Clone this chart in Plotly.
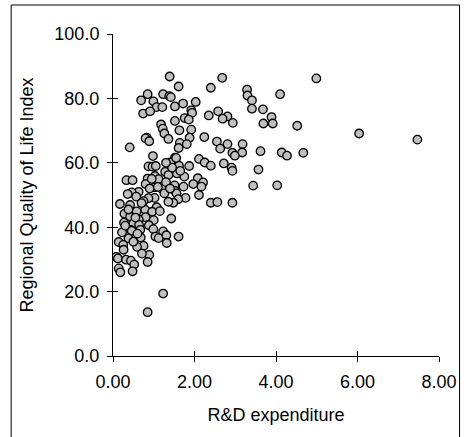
import plotly.graph_objects as go

# R&D expenditure (x) and Regional Quality of Life Index (y)
rd_expenditure = [
    1.39, 2.68, 4.99, 1.61, 2.40, 3.29, 1.23, 0.85, 4.10, 3.30, 1.38, 1.42, 0.69, 0.99, 3.41,
    2.03, 1.72, 1.07, 1.21, 1.52, 3.41, 3.68, 0.74, 0.91, 1.92, 1.94, 2.58, 2.35, 2.81, 2.69,
    3.89, 1.76, 1.86, 1.52, 2.94, 3.69, 3.92, 1.18, 4.52, 1.22, 1.63, 1.92, 1.26, 6.04, 0.83,
    0.80, 1.36, 1.88, 2.24, 7.47, 0.89, 2.55, 2.81, 1.64, 1.81, 3.18, 0.41, 1.61, 2.63, 3.62,
    4.14, 4.67, 3.17, 2.93, 4.27, 2.99, 0.98, 2.11, 1.52, 2.25, 1.41, 1.62, 1.87, 2.40, 2.72,
    0.87, 0.97, 2.91, 2.93, 3.57, 1.28, 1.57, 1.36, 1.03, 1.75, 1.12, 0.85, 2.08, 0.33, 0.48,
    2.21, 1.97, 3.44, 4.03, 0.80, 1.51, 1.02, 1.73, 2.17, 1.20, 1.52, 0.63, 0.46, 0.36, 1.26,
    1.56, 2.11, 0.57, 1.02, 0.87, 1.78, 1.60, 0.75, 2.40, 2.56, 2.93, 1.48, 1.36, 0.17, 0.42,
    1.07, 0.79, 0.58, 0.96, 0.28, 0.42, 0.80, 1.43, 0.63, 1.00, 0.27, 0.50, 0.64, 0.88, 0.44,
    0.99, 0.67, 0.22, 1.23, 0.46, 1.04, 1.12, 1.61, 0.68, 0.38, 0.14, 1.31, 1.32, 0.25, 0.75,
    0.59, 0.26, 0.89, 0.71, 0.08, 0.12, 0.32, 0.44, 0.85, 0.52, 0.14, 0.18, 0.48, 1.23, 0.85,
    0.38, 0.55, 0.70, 0.90, 1.10, 1.15, 0.95, 1.30, 1.40, 1.45, 1.55, 1.65, 1.30, 0.60, 0.50,
    0.30, 1.05,
]
quality_of_life = [
    86.8, 86.4, 86.2, 83.7, 83.3, 82.7, 81.3, 81.3, 81.3, 80.9, 80.7, 80.4, 79.4, 79.1, 79.4,
    78.9, 78.4, 77.3, 77.3, 77.5, 76.8, 76.6, 75.3, 76.0, 76.3, 75.5, 76.0, 74.7, 74.4, 73.7,
    74.2, 73.9, 73.4, 73.0, 72.4, 72.2, 72.2, 71.9, 71.5, 70.6, 70.1, 70.3, 69.1, 69.1, 67.8,
    67.6, 67.4, 67.8, 68.0, 67.2, 66.7, 66.6, 65.8, 66.2, 65.8, 65.8, 64.8, 64.6, 64.4, 63.6,
    63.2, 63.1, 63.2, 63.1, 62.2, 62.2, 62.1, 61.2, 61.6, 60.1, 60.1, 59.1, 59.0, 59.1, 59.8,
    58.9, 58.8, 58.5, 57.5, 57.9, 57.2, 56.7, 56.2, 55.9, 55.7, 54.9, 55.1, 55.2, 54.6, 54.6,
    53.9, 53.4, 52.9, 53.0, 53.4, 53.0, 52.4, 52.6, 52.6, 51.9, 51.3, 51.0, 50.8, 50.3, 50.5,
    50.5, 50.0, 49.5, 49.1, 49.0, 49.1, 48.7, 48.1, 47.6, 47.8, 47.6, 47.6, 47.9, 47.2, 46.9,
    46.2, 45.4, 44.9, 44.8, 44.2, 43.3, 43.1, 42.7, 42.4, 42.2, 41.4, 41.2, 40.7, 40.6, 39.2,
    39.4, 39.2, 38.4, 38.7, 38.9, 37.1, 36.6, 37.1, 36.8, 36.5, 35.4, 37.5, 35.1, 34.5, 34.2,
    33.9, 33.0, 31.4, 31.8, 30.8, 30.3, 29.9, 29.6, 29.2, 28.4, 27.2, 26.0, 26.3, 19.4, 13.6,
    45.5, 43.0, 47.5, 52.0, 52.5, 45.0, 55.0, 54.0, 52.0, 58.5, 61.5, 57.5, 60.0, 38.0, 35.5,
    40.5, 59.0,
]

x_ticks = [0, 2, 4, 6, 8]
y_ticks = [0, 20, 40, 60, 80, 100]

FONT = "Liberation Sans, Arial, sans-serif"

fig = go.Figure()
fig.add_trace(go.Scatter(
    x=rd_expenditure, y=quality_of_life, mode="markers",
    marker=dict(size=8.5, color="#c0c0c0", line=dict(color="black", width=1.3)),
    showlegend=False, hoverinfo="x+y",
))
# empty trace to activate overlay axes (inner half of the crossing ticks)
fig.add_trace(go.Scatter(x=[], y=[], xaxis="x2", yaxis="y2", showlegend=False, hoverinfo="skip"))

fig.update_layout(
    width=469, height=437,
    paper_bgcolor="white", plot_bgcolor="white",
    margin=dict(l=113, r=23, t=34, b=81),
    font=dict(family=FONT, size=18, color="black"),
    xaxis=dict(
        range=[0, 8], tickvals=x_ticks, tickformat=".2f",
        showgrid=False, zeroline=False, showline=True, linecolor="black", linewidth=1,
        ticks="outside", ticklen=5, tickcolor="black", tickwidth=1, ticklabelstandoff=4,
        title=dict(text="R&D expenditure", standoff=17, font=dict(size=18)),
        tickfont=dict(size=18),
    ),
    yaxis=dict(
        range=[0, 100], tickvals=y_ticks, tickformat=".1f",
        showgrid=False, zeroline=False, showline=True, linecolor="black", linewidth=1,
        ticks="outside", ticklen=5, tickcolor="black", tickwidth=1, ticklabelstandoff=4,
        title=dict(text="Regional Quality of Life Index", standoff=16, font=dict(size=18)),
        tickfont=dict(size=18),
    ),
    xaxis2=dict(
        overlaying="x", range=[0, 8], tickvals=x_ticks, showticklabels=False,
        showgrid=False, zeroline=False, showline=False,
        ticks="inside", ticklen=5, tickcolor="black", tickwidth=1,
    ),
    yaxis2=dict(
        overlaying="y", range=[0, 100], tickvals=y_ticks, showticklabels=False,
        showgrid=False, zeroline=False, showline=False,
        ticks="inside", ticklen=5, tickcolor="black", tickwidth=1,
    ),
    shapes=[dict(
        type="rect", xref="paper", yref="paper",
        x0=(9 - 113) / 333, x1=(467 - 113) / 333,
        y0=(356 - 438) / 322, y1=(356 - 5) / 322,
        line=dict(color="black", width=1), fillcolor="rgba(0,0,0,0)", layer="below",
    )],
)

fig.write_html(
    "out.html",
    config={"displayModeBar": False},
    post_script="document.body.style.margin='0';document.body.style.overflow='hidden';",
)
